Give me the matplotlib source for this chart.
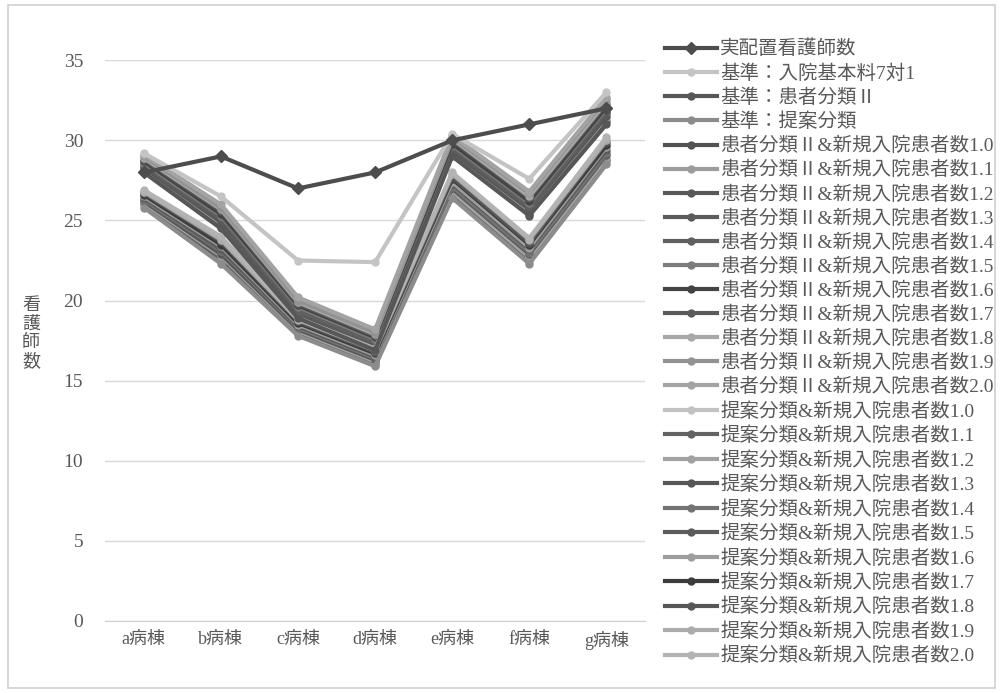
import matplotlib
matplotlib.use("Agg")
import matplotlib.pyplot as plt
from matplotlib.patches import Rectangle

plt.rcParams['font.family'] = ['Noto Sans CJK JP', 'DejaVu Sans']

# ---------------------------------------------------------------------------
# Daten
wards = ["a病棟", "b病棟", "c病棟", "d病棟", "e病棟", "f病棟", "g病棟"]
y_ticks = [0, 5, 10, 15, 20, 25, 30, 35]

actual = [28, 29, 27, 28, 30, 31, 32]
std_71 = [29.2, 26.5, 22.5, 22.4, 30.4, 27.6, 33.0]
std_p2 = [28.0, 24.5, 18.9, 16.9, 29.0, 25.3, 31.0]
std_prop = [25.8, 22.3, 17.8, 15.9, 26.4, 22.3, 28.5]

p2_10 = [28.1, 24.7, 19.0, 17.0, 29.1, 25.4, 31.2]
p2_11 = [28.2, 24.8, 19.1, 17.1, 29.2, 25.5, 31.4]
p2_12 = [28.3, 24.9, 19.2, 17.2, 29.3, 25.7, 31.5]
p2_13 = [28.4, 25.1, 19.3, 17.3, 29.5, 25.8, 31.7]
p2_14 = [28.5, 25.2, 19.4, 17.4, 29.6, 25.9, 31.8]
p2_15 = [28.6, 25.3, 19.6, 17.6, 29.7, 26.1, 32.0]
p2_16 = [28.7, 25.4, 19.7, 17.7, 29.8, 26.2, 32.1]
p2_17 = [28.8, 25.6, 19.8, 17.8, 30.0, 26.4, 32.3]
p2_18 = [28.9, 25.7, 19.9, 17.9, 30.1, 26.5, 32.4]
p2_19 = [29.0, 25.8, 20.0, 18.0, 30.2, 26.7, 32.6]
p2_20 = [29.1, 26.0, 20.2, 18.2, 30.3, 26.8, 32.7]

prop_10 = [25.9, 22.4, 17.9, 16.0, 26.5, 22.4, 28.6]
prop_11 = [26.0, 22.6, 18.0, 16.1, 26.7, 22.6, 28.8]
prop_12 = [26.1, 22.8, 18.1, 16.2, 26.8, 22.7, 28.9]
prop_13 = [26.2, 22.9, 18.2, 16.3, 27.0, 22.9, 29.1]
prop_14 = [26.3, 23.1, 18.3, 16.4, 27.1, 23.0, 29.2]
prop_15 = [26.4, 23.2, 18.4, 16.5, 27.3, 23.2, 29.4]
prop_16 = [26.5, 23.4, 18.5, 16.6, 27.4, 23.3, 29.6]
prop_17 = [26.6, 23.5, 18.6, 16.7, 27.6, 23.5, 29.7]
prop_18 = [26.7, 23.7, 18.7, 16.8, 27.7, 23.6, 29.9]
prop_19 = [26.8, 23.8, 18.8, 16.9, 27.9, 23.8, 30.0]
prop_20 = [26.9, 24.0, 18.9, 17.0, 28.0, 23.9, 30.2]

labels = [
    "実配置看護師数", "基準：入院基本料7対1", "基準：患者分類Ⅱ", "基準：提案分類",
    "患者分類Ⅱ&新規入院患者数1.0", "患者分類Ⅱ&新規入院患者数1.1",
    "患者分類Ⅱ&新規入院患者数1.2", "患者分類Ⅱ&新規入院患者数1.3",
    "患者分類Ⅱ&新規入院患者数1.4", "患者分類Ⅱ&新規入院患者数1.5",
    "患者分類Ⅱ&新規入院患者数1.6", "患者分類Ⅱ&新規入院患者数1.7",
    "患者分類Ⅱ&新規入院患者数1.8", "患者分類Ⅱ&新規入院患者数1.9",
    "患者分類Ⅱ&新規入院患者数2.0",
    "提案分類&新規入院患者数1.0", "提案分類&新規入院患者数1.1",
    "提案分類&新規入院患者数1.2", "提案分類&新規入院患者数1.3",
    "提案分類&新規入院患者数1.4", "提案分類&新規入院患者数1.5",
    "提案分類&新規入院患者数1.6", "提案分類&新規入院患者数1.7",
    "提案分類&新規入院患者数1.8", "提案分類&新規入院患者数1.9",
    "提案分類&新規入院患者数2.0",
]
series = [actual, std_71, std_p2, std_prop,
          p2_10, p2_11, p2_12, p2_13, p2_14, p2_15, p2_16, p2_17, p2_18, p2_19, p2_20,
          prop_10, prop_11, prop_12, prop_13, prop_14, prop_15, prop_16, prop_17,
          prop_18, prop_19, prop_20]
colors = ["#4d4d4d", "#c4c4c4", "#575757", "#8c8c8c",
          "#525252", "#9c9c9c", "#585858", "#5c5c5c", "#606060", "#7c7c7c",
          "#444444", "#5a5a5a", "#a8a8a8", "#929292", "#a3a3a3",
          "#c2c2c2", "#626262", "#a2a2a2", "#575757", "#737373", "#5c5c5c",
          "#9d9d9d", "#3c3c3c", "#575757", "#acacac", "#b3b3b3"]

# ---------------------------------------------------------------------------
fig = plt.figure(figsize=(10.03, 6.93), dpi=100)
fig.patches.append(Rectangle((0.008, 0.007), 0.984, 0.986, transform=fig.transFigure,
                             fill=False, edgecolor="#cfcfcf", linewidth=1.2))
ax = fig.add_axes([0.105, 0.104, 0.538, 0.809])

x = list(range(len(wards)))
# zuerst die Buendel, dann Standard- und Ist-Linien obendrauf
order = list(range(4, len(series))) + [3, 2, 1, 0]
for i in order:
    marker = "D" if i == 0 else "o"
    ax.plot(x, series[i], color=colors[i], linewidth=3.0, marker=marker,
            markersize=6 if i == 0 else 5, label=labels[i], zorder=3 + (i < 4))

ax.set_xlim(-0.5, len(wards) - 0.5)
ax.set_ylim(0, 35)
ax.set_yticks(y_ticks)
ax.set_xticks(x)
ax.set_xticklabels(wards, family=["Liberation Serif", "Noto Sans CJK JP"],
                   fontsize=13, color="#595959")
ax.set_yticklabels([str(v) for v in y_ticks], family="Liberation Serif",
                   fontsize=14, color="#595959")
ax.tick_params(axis="both", length=0)
ax.tick_params(axis="y", pad=16)
ax.tick_params(axis="x", pad=7)
ax.grid(axis="y", color="#d9d9d9", linewidth=1.0)
ax.set_axisbelow(True)
for side in ["top", "right", "left"]:
    ax.spines[side].set_visible(False)
ax.spines["bottom"].set_color("#d0d0d0")

fig.text(0.031, 0.52, "看\n護\n師\n数", fontsize=13, color="#595959",
         ha="center", va="center", linespacing=1.05)

handles, labs = ax.get_legend_handles_labels()
lookup = dict(zip(labs, handles))
leg = fig.legend([lookup[l] for l in labels], labels, loc="upper left",
                 bbox_to_anchor=(0.655, 0.954), frameon=False,
                 prop={"family": ["Liberation Serif", "Noto Sans CJK JP"], "size": 14},
                 handlelength=2.7, handletextpad=0.15, labelspacing=0.3,
                 borderaxespad=0)
for t in leg.get_texts():
    t.set_color("#595959")

fig.savefig("out.png", dpi=100)
